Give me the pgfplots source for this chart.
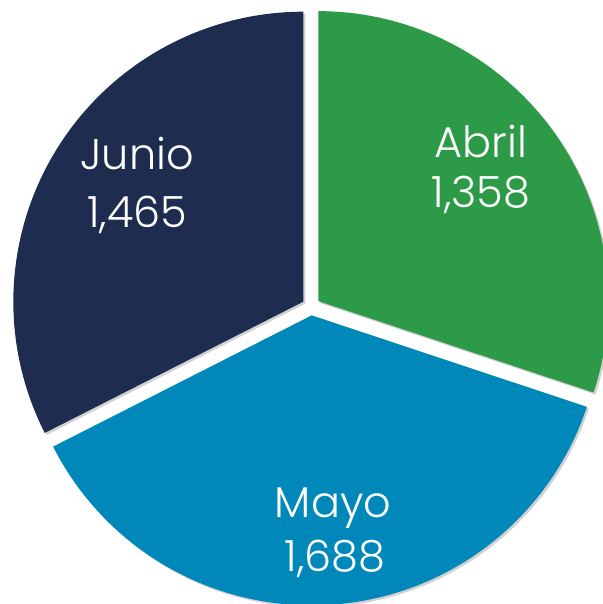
\documentclass[border=0pt]{standalone}
\usepackage{fontspec}
\setmainfont{Poppins}[UprightFont=* Light]
\usepackage{pgfplots}
\pgfplotsset{compat=1.18}

\definecolor{cAbril}{HTML}{2D9A47}
\definecolor{cMayo}{HTML}{0088BA}
\definecolor{cJunio}{HTML}{1D2C4F}

% values
\def\vAbril{1358}
\def\vMayo{1688}
\def\vJunio{1465}

% geometry (picture pixels, y up)
\def\cx{311}
\def\cy{297.6}
\def\R{290}
\def\off{9}

\pgfmathsetmacro\tot{\vAbril+\vMayo+\vJunio}
\pgfmathsetmacro\aB{90-360*(\vAbril/\tot)}
\pgfmathsetmacro\aC{\aB-360*(\vMayo/\tot)}
\pgfmathsetmacro\aD{\aC-360*(\vJunio/\tot)}
\pgfmathsetmacro\oxA{\cx+\off*cos((90+\aB)/2)}
\pgfmathsetmacro\oyA{\cy+\off*sin((90+\aB)/2)}
\pgfmathsetmacro\oxM{\cx+\off*cos((\aB+\aC)/2)}
\pgfmathsetmacro\oyM{\cy+\off*sin((\aB+\aC)/2)}
\pgfmathsetmacro\oxJ{\cx+\off*cos((\aC+\aD)/2)}
\pgfmathsetmacro\oyJ{\cy+\off*sin((\aC+\aD)/2)}
\pgfmathsetmacro\sA{\aB-2}
\pgfmathsetmacro\sM{\aC-2}
\pgfmathsetmacro\sJ{\aD-2}

\pgfplotsset{
  slice/.style={draw=none, samples=260, variable=\t},
  shade1/.style={slice, fill=black, fill opacity=0.18},
}

\begin{document}
\begin{tikzpicture}
\begin{axis}[
    width=301.5pt, height=302pt, scale only axis,
    xmin=0, xmax=603, ymin=0, ymax=604,
    hide axis, clip=true,
]
% soft shadows
\addplot[shade1, domain=\sA:90]
  ({\oxA+2+(\t<\aB-1 ? 0 : \R)*cos(max(\t,\aB))}, {\oyA-2+(\t<\aB-1 ? 0 : \R)*sin(max(\t,\aB))});
\addplot[shade1, domain=\sM:\aB]
  ({\oxM+2+(\t<\aC-1 ? 0 : \R)*cos(max(\t,\aC))}, {\oyM-2+(\t<\aC-1 ? 0 : \R)*sin(max(\t,\aC))});
\addplot[shade1, domain=\sJ:\aC]
  ({\oxJ+2+(\t<\aD-1 ? 0 : \R)*cos(max(\t,\aD))}, {\oyJ-2+(\t<\aD-1 ? 0 : \R)*sin(max(\t,\aD))});
% slices
\addplot[slice, fill=cAbril, domain=\sA:90]
  ({\oxA+(\t<\aB-1 ? 0 : \R)*cos(max(\t,\aB))}, {\oyA+(\t<\aB-1 ? 0 : \R)*sin(max(\t,\aB))});
\addplot[slice, fill=cMayo, domain=\sM:\aB]
  ({\oxM+(\t<\aC-1 ? 0 : \R)*cos(max(\t,\aC))}, {\oyM+(\t<\aC-1 ? 0 : \R)*sin(max(\t,\aC))});
\addplot[slice, fill=cJunio, domain=\sJ:\aC]
  ({\oxJ+(\t<\aD-1 ? 0 : \R)*cos(max(\t,\aD))}, {\oyJ+(\t<\aD-1 ? 0 : \R)*sin(max(\t,\aD))});

% labels
\tikzset{lbl/.style={anchor=base, text=white, inner sep=0pt, font=\fontsize{21.5}{26}\selectfont}}
\node[lbl] at (axis cs:481,446) {Abril};
\node[lbl] at (axis cs:481,396) {1,358};
\node[lbl] at (axis cs:137,434) {Junio};
\node[lbl] at (axis cs:137,376) {1,465};
\node[lbl] at (axis cs:333,86) {Mayo};
\node[lbl] at (axis cs:335,32) {1,688};
\end{axis}
% keep the full canvas as the page
\path (current axis.south west) rectangle (current axis.north east);
\end{tikzpicture}
\end{document}
